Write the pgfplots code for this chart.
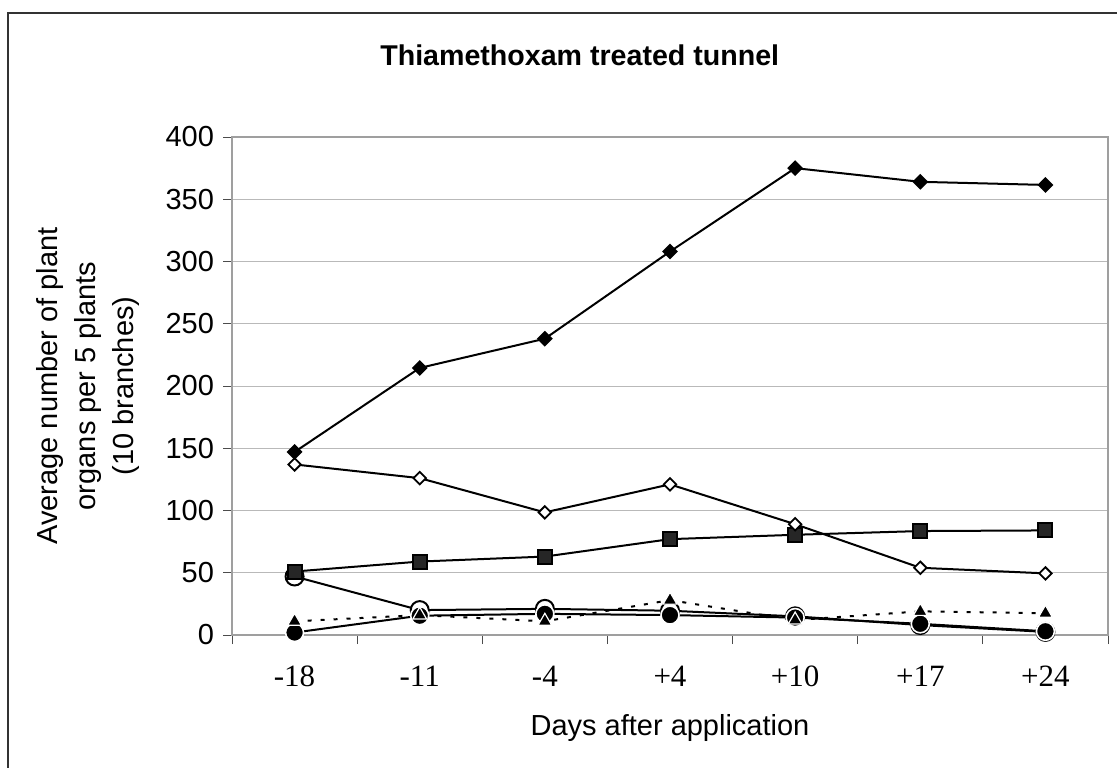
\documentclass[border=0pt]{standalone}
\usepackage{pgfplots}
\pgfplotsset{compat=1.18}
\usepackage{fontspec}
\setmainfont{Liberation Sans}
\newfontfamily\seriffont{Liberation Serif}
\begin{document}
\begin{tikzpicture}[x=1pt,y=1pt]
\useasboundingbox (0,0) rectangle (558.5,383.5);
\draw[line width=0.8pt, black!80] (4,-5) -- (4,377) -- (565,377);
\begin{axis}[
  at={(116pt,66pt)}, anchor=south west,
  scale only axis, width=438pt, height=249pt,
  xmin=-0.5, xmax=6.5, ymin=0, ymax=400,
  ytick={0,50,...,400},
  xtick={-0.5,0.5,...,6.5}, xticklabels={},
  extra x ticks={0,1,2,3,4,5,6},
  extra x tick labels={-18,-11,-4,+4,+10,+17,+24},
  extra x tick style={major tick length=0pt, grid=none},
  xtick pos=bottom, ytick pos=left,
  tick align=outside, major tick length=4.5pt,
  tick style={black!70, line width=0.5pt},
  ymajorgrids, grid style={gray!55, line width=0.5pt},
  axis line style={gray!75, line width=0.6pt},
  /pgf/number format/assume math mode=true,
  yticklabel style={font=\fontsize{14.5}{15}\selectfont, xshift=-1pt},
  xticklabel style={font=\seriffont\fontsize{15.5}{16}\selectfont, yshift=-12pt},
  title={Thiamethoxam treated tunnel},
  every axis title/.style={at={(axis description cs:0.397,1.1647)}, anchor=center, font=\bfseries\fontsize{14.3}{15}\selectfont},
  xlabel={Days after application},
  every axis x label/.style={at={(axis description cs:0.5,-0.1867)}, anchor=center, font=\fontsize{14.5}{16}\selectfont},
  ylabel={Average number of plant\\organs per 5 plants\\(10 branches)},
  every axis y label/.style={at={(axis description cs:-0.1644,0.5)}, rotate=90, anchor=center, align=center, font=\fontsize{14.5}{19}\selectfont},
  clip=false,
]
% open circles
\addplot[black, line width=1pt, mark=*, mark size=4.5pt, mark options={fill=white, draw=black, line width=1pt, solid}]
  coordinates {(0,47) (1,20) (2,21) (3,19.5) (4,15) (5,8) (6,2.5)};
% filled circles
\addplot[black, line width=1pt, mark=*, mark size=4.5pt, mark options={fill=black, draw=white, line width=0.8pt, solid}]
  coordinates {(0,2) (1,15.5) (2,17) (3,16) (4,14) (5,9) (6,3)};
% filled triangles, dotted
\addplot[black, line width=1pt, dash pattern=on 2pt off 4.5pt, mark=triangle*, mark size=4pt, mark options={fill=black, draw=white, line width=0.6pt, solid}]
  coordinates {(0,11) (1,16) (2,11) (3,28) (4,12) (5,19) (6,17.5)};
% filled squares
\addplot[black, line width=1pt, mark=square*, mark size=3.5pt, mark options={fill=black!85, draw=black, solid}]
  coordinates {(0,51) (1,59) (2,63) (3,77) (4,80.5) (5,83.5) (6,84)};
% open diamonds
\addplot[black, line width=1pt, mark=square*, mark size=2.2pt, mark options={rotate=45, fill=white, draw=black, line width=0.9pt, solid}]
  coordinates {(0,137) (1,126) (2,98.5) (3,121) (4,89) (5,54) (6,49.5)};
% filled diamonds
\addplot[black, line width=1pt, mark=square*, mark size=2.3pt, mark options={rotate=45, fill=black, draw=black, solid}]
  coordinates {(0,147) (1,214.5) (2,238) (3,308) (4,375) (5,364) (6,361.5)};
\end{axis}
\end{tikzpicture}
\end{document}
